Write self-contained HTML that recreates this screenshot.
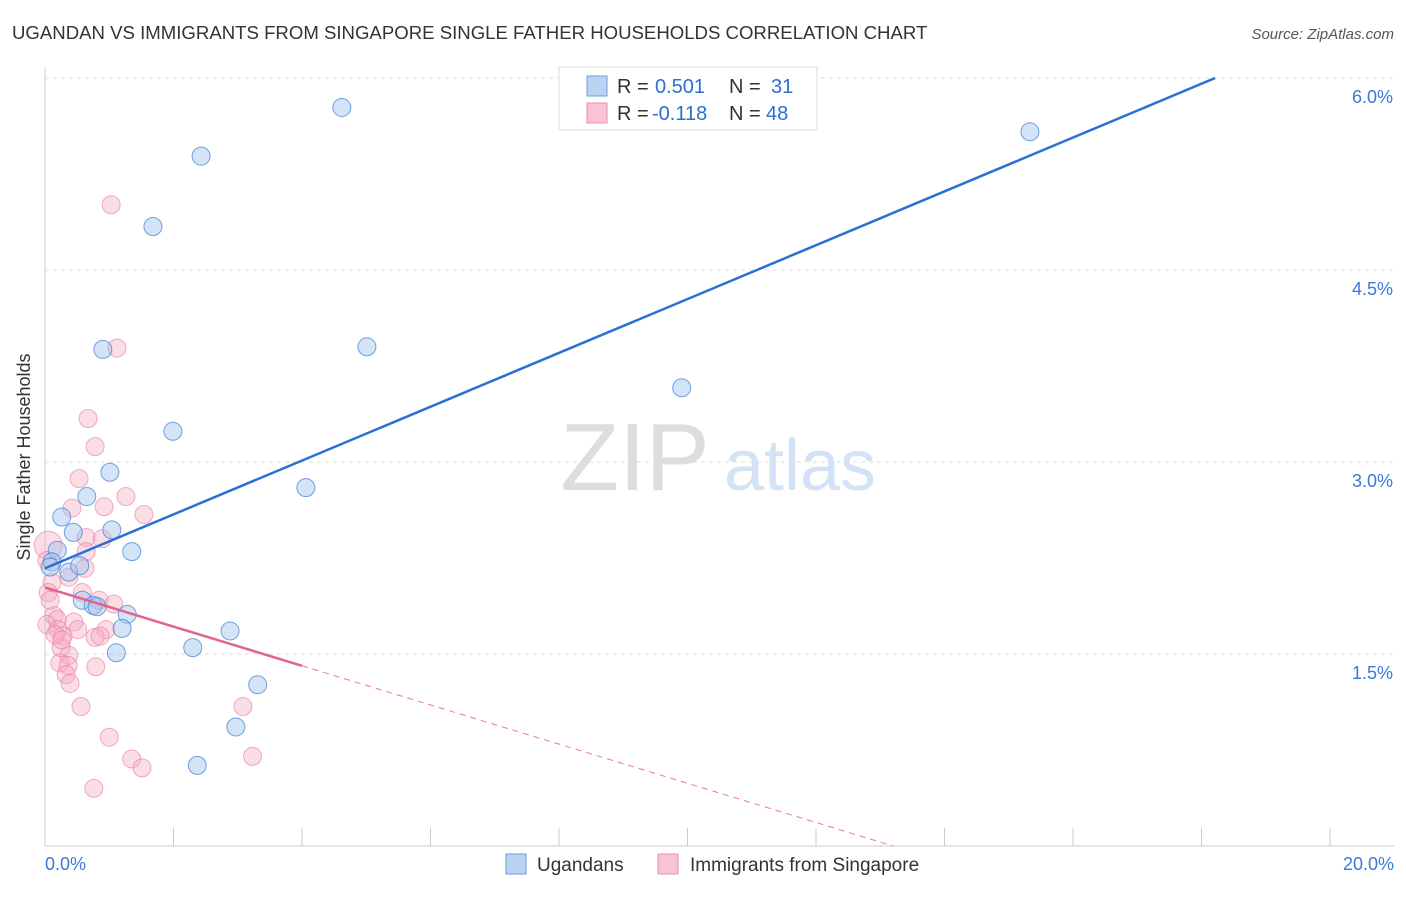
<!DOCTYPE html>
<html><head><meta charset="utf-8"><style>
body{margin:0;background:#fff;font-family:"Liberation Sans",sans-serif}
svg text{font-family:"Liberation Sans",sans-serif}
</style></head><body>
<svg id="c" width="1406" height="892">
<text x="12" y="39" font-size="18.6" fill="#333">UGANDAN VS IMMIGRANTS FROM SINGAPORE SINGLE FATHER HOUSEHOLDS CORRELATION CHART</text>
<text x="1394" y="39" font-size="15" fill="#555" font-style="italic" text-anchor="end">Source: ZipAtlas.com</text>
<text x="30" y="457" font-size="18" fill="#333" text-anchor="middle" transform="rotate(-90 30 457)">Single Father Households</text>
<g><text x="635" y="490" font-size="96" fill="#ddd" font-family="Liberation Serif" text-anchor="middle">ZIP</text><text x="800" y="490" font-size="72" fill="#d3e2f4" text-anchor="middle">atlas</text></g>
<g id="grid"></g><g id="marks"></g><g id="lines"></g>
<g>
<rect x="559" y="67" width="258" height="63" fill="#fff" stroke="#ddd"/>
<rect x="587" y="76" width="20" height="20" fill="#b9d3f3" stroke="#6f9fdc"/>
<rect x="587" y="103" width="20" height="20" fill="#f8c4d3" stroke="#e890ab"/>
<text x="617" y="93" font-size="20" fill="#333">R =</text><text x="655" y="93" font-size="20" fill="#2a6fd6">0.501</text>
<text x="729" y="93" font-size="20" fill="#333">N =</text><text x="771" y="93" font-size="20" fill="#2a6fd6">31</text>
<text x="617" y="120" font-size="20" fill="#333">R =</text><text x="652" y="120" font-size="20" fill="#2a6fd6">-0.118</text>
<text x="729" y="120" font-size="20" fill="#333">N =</text><text x="766" y="120" font-size="20" fill="#2a6fd6">48</text>
</g>
<g>
<rect x="506" y="854" width="20" height="20" fill="#b9d3f3" stroke="#6f9fdc"/>
<text x="537" y="871" font-size="19" fill="#333">Ugandans</text>
<rect x="658" y="854" width="20" height="20" fill="#f8c4d3" stroke="#e890ab"/>
<text x="690" y="871" font-size="19" fill="#333">Immigrants from Singapore</text>
</g>
</svg>
<script>
const yTicks=[1.5,3.0,4.5,6.0];
const xTickLabels=["0.0%","20.0%"];
const blueX=[4.62,2.43,15.33,1.68,0.90,5.01,9.91,1.99,1.01,0.65,4.06,0.26,1.04,0.44,1.35,0.19,0.11,0.08,0.37,0.54,0.58,0.75,0.81,1.28,1.20,2.88,1.11,2.30,3.31,2.97,2.37];
const blueY=[5.77,5.39,5.58,4.84,3.88,3.90,3.58,3.24,2.92,2.73,2.80,2.57,2.47,2.45,2.30,2.31,2.22,2.18,2.14,2.19,1.92,1.88,1.87,1.81,1.70,1.68,1.51,1.55,1.26,0.93,0.63];
const pinkX=[1.03,1.12,0.67,0.78,0.53,0.42,1.26,0.92,1.54,0.64,0.89,0.05,0.64,0.62,0.37,0.11,0.05,0.58,0.84,1.07,0.14,0.19,0.03,0.45,0.20,0.51,0.28,0.95,0.78,0.86,0.37,0.23,0.36,0.33,0.39,0.79,0.25,0.16,0.56,1.00,1.35,1.51,0.76,3.08,3.23,0.08,0.26,0.03];
const pinkY=[5.01,3.89,3.34,3.12,2.87,2.64,2.73,2.65,2.59,2.41,2.40,2.35,2.30,2.17,2.10,2.06,1.98,1.98,1.92,1.89,1.80,1.77,1.73,1.75,1.69,1.69,1.64,1.69,1.63,1.64,1.49,1.43,1.41,1.34,1.27,1.40,1.55,1.65,1.09,0.85,0.68,0.61,0.45,1.09,0.70,1.92,1.61,2.23];
const blueTrend=[2.17,0.2103];
const pinkTrend=[2.02,-0.153];
const X=v=>45+v*1285/20, Y=v=>846-v*128;
const NS="http://www.w3.org/2000/svg";
function mk(p,t,a){const e=document.createElementNS(NS,t);for(const k in a)e.setAttribute(k,a[k]);p.appendChild(e);return e;}
const g=document.getElementById('grid');
const ax=mk(g,'line',{x1:45,y1:67,x2:45,y2:846,stroke:'#ccc'});


const bx=mk(g,'line',{x1:45,y1:846,x2:1394,y2:846,stroke:'#ccc'});


yTicks.forEach(t=>{
 const l=mk(g,'line',{x1:45,y1:Y(t),x2:1394,y2:Y(t),stroke:'#ddd','stroke-dasharray':'4,4'});
 
 
 const tx=mk(g,'text',{x:1393,y:Y(t)+25,'font-size':18,fill:'#3b78d8','text-anchor':'end'});
 tx.textContent=t.toFixed(1)+'%';
 
 
});
for(let i=0;i<=10;i++){
 const l=mk(g,'line',{x1:X(i*2),y1:828,x2:X(i*2),y2:846,stroke:'#ccc'});
 
 
}
const t0=mk(g,'text',{x:45,y:870,'font-size':18,fill:'#3b78d8'});t0.textContent=xTickLabels[0];


const t1=mk(g,'text',{x:1394,y:870,'font-size':18,fill:'#3b78d8','text-anchor':'end'});t1.textContent=xTickLabels[1];


const m=document.getElementById('marks');
pinkX.forEach((x,i)=>{const c=mk(m,'circle',{cx:X(x),cy:Y(pinkY[i]),r:i==11?14:9,fill:'rgba(246,170,192,0.4)',stroke:'rgba(232,120,155,0.6)','stroke-width':1});
 
 });
blueX.forEach((x,i)=>{const c=mk(m,'circle',{cx:X(x),cy:Y(blueY[i]),r:9,fill:'rgba(160,195,238,0.45)',stroke:'rgba(70,130,215,0.75)','stroke-width':1});
 
 });
const L=document.getElementById('lines');
const bEnd=(6.0-blueTrend[0])/blueTrend[1];
const bl=mk(L,'line',{x1:X(0),y1:Y(blueTrend[0]),x2:X(bEnd),y2:Y(6.0),stroke:'#2a6fd6','stroke-width':2.5});


const pz=-pinkTrend[0]/pinkTrend[1];
const pd=mk(L,'line',{x1:X(4),y1:Y(pinkTrend[0]+4*pinkTrend[1]),x2:X(pz),y2:Y(0),stroke:'#e8799c','stroke-width':1,'stroke-dasharray':'6,5'});


const pl=mk(L,'line',{x1:X(0),y1:Y(pinkTrend[0]),x2:X(4),y2:Y(pinkTrend[0]+4*pinkTrend[1]),stroke:'#e0658c','stroke-width':2.5});


</script>
</body></html>
